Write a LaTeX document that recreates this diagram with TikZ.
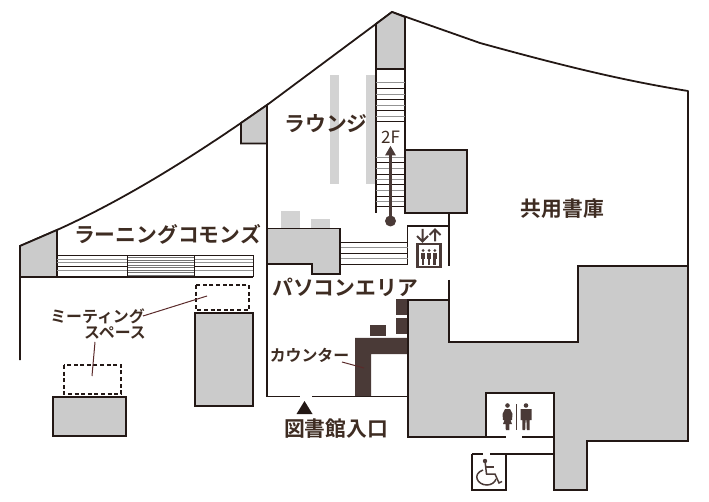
\documentclass[tikz,border=0pt]{standalone}
\usepackage{fontspec}
\setmainfont{Noto Sans CJK JP}[BoldFont={Noto Sans CJK JP Bold}]
\definecolor{wall}{HTML}{231815}
\definecolor{fillg}{HTML}{CBCBCB}
\definecolor{lightg}{HTML}{D3D3D3}
\definecolor{dark}{HTML}{4A3A37}
\definecolor{lead}{HTML}{5A2A2A}
\definecolor{txt}{HTML}{3E2C22}
\tikzset{
 x=1pt,y=-1pt,
 wallline/.style={draw=wall,line width=1.8pt},
 block/.style={wallline,fill=fillg},
 thin dark/.style={draw=wall,line width=1pt},
 thin grey/.style={draw=gray!85,line width=1pt},
 dashbox/.style={draw=wall,line width=1.1pt,dash pattern=on 4pt off 2.6pt},
 leader/.style={draw=lead,line width=1pt},
 big/.style={font=\bfseries\fontsize{20.8}{22}\selectfont,text=txt,inner sep=0pt},
 small/.style={font=\bfseries\fontsize{15.9}{17}\selectfont,text=txt,inner sep=0pt},
 icon/.style={fill=dark,draw=none}
}
\begin{document}
\begin{tikzpicture}
\useasboundingbox (0,0) rectangle (709,502);
% light grey furniture
\fill[lightg] (330,75) rectangle (339,184);
\fill[lightg] (366,75) rectangle (376,184);
\fill[lightg] (281,211) rectangle (300,229);
\fill[lightg] (311,219) rectangle (330,229);
% roof and outer walls
\draw[wallline,line join=round] (20,360) -- (20,246) -- (57,230) .. controls (130,197) and (200,152) .. (267,105) -- (392,12) -- (480,43) .. controls (560,65) and (620,80) .. (688,91) -- (688,266);
% grey corners
\draw[block] (20,246) -- (57,230) -- (57,277) -- (20,277) -- cycle;
\draw[block] (241,123) -- (267,105) -- (267,143.5) -- (241,143.5) -- cycle;
\draw[block] (376,24) -- (392,12) -- (405,17) -- (405,69) -- (376,69) -- cycle;
% interior walls
\draw[wallline] (267,105) -- (267,396.5) -- (300,396.5);
\draw[wallline] (312,396.5) -- (408,396.5);
\draw[wallline] (376,24) -- (376,213);
\draw[wallline] (405,17) -- (405,150);
\draw[wallline] (449,213) -- (449,266);
\draw[wallline] (449,280) -- (449,342);
\draw[wallline] (449,226) -- (407.5,226) -- (407.5,265);
% left stairs
\foreach \y/\c in {260/thin grey,262.5/thin grey,266.5/thin dark,271/thin grey}{\draw[\c] (57,\y) -- (127,\y); \draw[\c] (194,\y) -- (253,\y);}
\foreach \y in {257.5,260,262.5,265,267.5,270,272.5,275}{\draw[draw=gray!90!black,line width=.8pt] (127,\y) -- (194,\y);}
\draw[thin dark] (57,255.5) -- (253,255.5) -- (253,277);
\draw[wallline] (57,277) -- (253,277);
\draw[thin dark] (127,255.5) -- (127,277);
\draw[thin dark] (194,255.5) -- (194,277);
% central stairs
\foreach \y/\c in {83/thin grey,89/thin dark,95/thin grey,100/thin dark,106/thin grey,111/thin dark,117/thin grey,122/thin dark,158/thin grey,163/thin dark,169/thin grey,175/thin dark,180/thin grey,185/thin dark,191/thin grey,197/thin dark,202/thin grey,207/thin dark}{\draw[\c] (376,\y) -- (405,\y);}
% lower stairs
\foreach \y/\c in {243/thin dark,248/thin grey,254/thin dark,259/thin grey,265/thin dark}{\draw[\c] (340,\y) -- (407.5,\y);}
% grey blocks
\draw[block] (405,150) rectangle (467,213);
\draw[block] (267,228.5) -- (340,228.5) -- (340,274) -- (312,274) -- (312,264) -- (267,264) -- cycle;
\draw[block] (195,313) rectangle (253,406);
\draw[block] (53,397) rectangle (126,436);
\draw[dashbox] (196,285) rectangle (249,310);
\draw[dashbox] (64,365) rectangle (121,394);
% counter
\fill[dark] (355,338) -- (408,338) -- (408,354) -- (371,354) -- (371,396) -- (355,396) -- cycle;
\fill[dark] (370,325) rectangle (386,336);
\fill[dark] (396,299) rectangle (408,315);
\fill[dark] (396,318) rectangle (408,334);
% large grey wing
\draw[block,line join=miter] (408,300) -- (449,300) -- (449,342) -- (578,342) -- (578,266) -- (688,266) -- (688,441) -- (587,441) -- (587,490) -- (554,490) -- (554,393) -- (486,393) -- (486,437) -- (408,437) -- cycle;
% toilets corridor
\draw[wallline] (486,437) -- (506,437);
\draw[wallline] (522,437) -- (554,437);
\draw[wallline] (472,454) -- (483,454);
\draw[wallline] (490,454) -- (554,454);
\draw[wallline] (472,454) -- (472,490) -- (506,490) -- (506,454);
% labels
\node[big] (commons) at (167.5,234) {ラーニングコモンズ};
\node[big] (lounge) at (326,124) {ラウンジ};
\node[big] (pc) at (345,287) {パソコンエリア};
\node[big] (shoko) at (562.5,209) {共用書庫};
\node[big] (entrance) at (336,429) {図書館入口};
\node[small] (meet) at (97.5,316) {ミーティング};
\node[small] (space) at (115,333) {スペース};
\node[small] (counter) at (309.5,355) {カウンター};
\node[font=\fontsize{17}{18}\selectfont,text=txt,inner sep=0pt] (floor) at (390.5,137) {2F};
% leaders
\coordinate (m1) at (207,296); \coordinate (m2) at (92,376); \coordinate (c1) at (364,368);
\draw[leader] (143,316) -- (m1);
\draw[leader] (95,342) -- (m2);
\draw[leader] (342,362) -- (c1);
% entrance triangle
\fill[wall] (296.5,414) -- (304.5,401) -- (312.5,414) -- cycle;
% 2F arrow
\node[circle,fill=dark,draw=none,minimum size=11pt,inner sep=0pt] (dot) at (390.5,221) {};
\coordinate (tip) at (390.5,146);
\draw[dark,line width=2.2pt] (dot.center) -- (390.5,155);
\fill[dark] (tip) -- (396,155.5) -- (385,155.5) -- cycle;
% lift icon
\draw[dark,line width=2pt] (422.5,229) -- (422.5,241) (417,236) -- (422.5,241.5) -- (428,236);
\draw[dark,line width=2pt] (435,241.5) -- (435,229.5) (429.5,235) -- (435,229.5) -- (440.5,235);
\draw[dark,line width=2.4pt,fill=white] (417.5,244) rectangle (440.5,267);
\foreach \x in {423,429,434.8}{
 \fill[dark] (\x,250.5) circle (1.5);
 \fill[dark] (\x-2.1,253) rectangle (\x+2.1,259.5);
 \fill[dark] (\x-1.4,259.5) rectangle (\x-.2,265);
 \fill[dark] (\x+.2,259.5) rectangle (\x+1.4,265);
}
% toilets
\draw[dark,line width=1.1pt] (516.7,404) -- (516.7,430);
\fill[dark] (507.5,405.5) circle (2.3);
\fill[dark] (505,409) -- (510,409) -- (512.5,414) -- (512,420) -- (510.5,420) -- (512,424) -- (509.5,424) -- (509.3,430) -- (505.8,430) -- (505.5,424) -- (503,424) -- (504.5,420) -- (503,420) -- (502.5,414) -- cycle;
\fill[dark] (526,405.5) circle (2.3);
\fill[dark] (520.5,409) -- (531.5,409) -- (531.5,420) -- (529.7,420) -- (529.5,430) -- (526.8,430) -- (526.4,420) -- (525.6,420) -- (525.2,430) -- (522.5,430) -- (522.3,420) -- (520.5,420) -- cycle;
% wheelchair
\fill[dark] (485,461) circle (2.2);
\draw[dark,line width=1.5pt] (485,461) -- (486.5,474) -- (495,474) -- (499,483) -- (502,481.5);
\draw[dark,line width=1.3pt] (485.8,467) -- (494,467);
\draw[dark,line width=1.5pt] (483,470) .. controls (472,474) and (477,485) .. (487,485) .. controls (491,485) and (495,482.5) .. (496,479);
\end{tikzpicture}
\end{document}
